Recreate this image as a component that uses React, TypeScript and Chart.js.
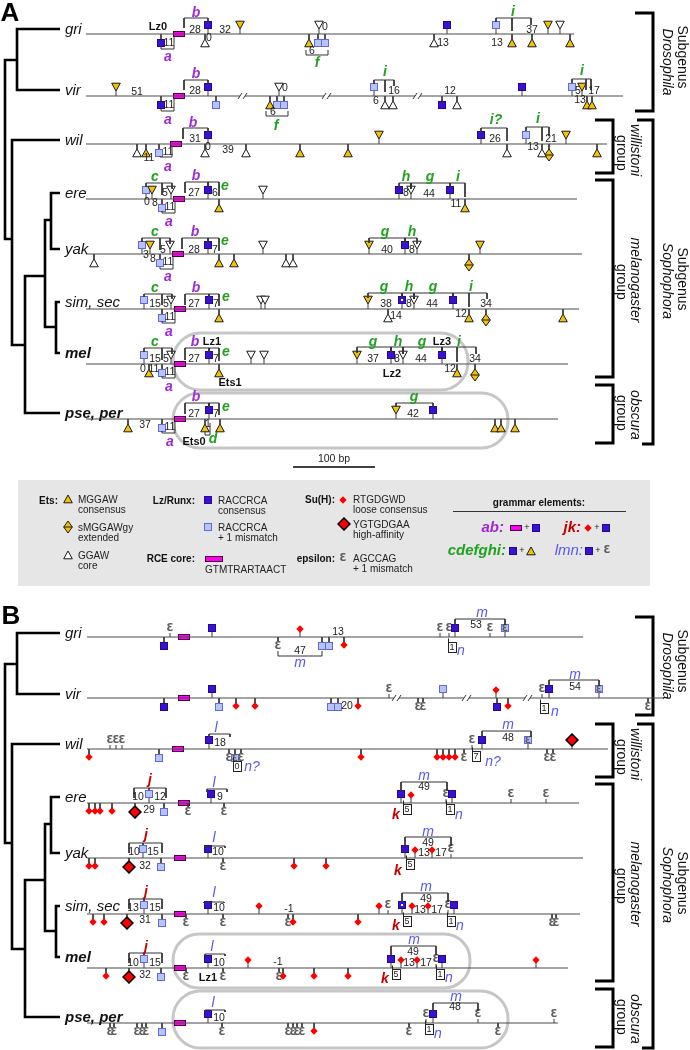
import React, { useEffect, useRef } from 'react';
import { Chart, registerables } from 'chart.js';

Chart.register(...registerables);

const FONT = '"Liberation Sans", Arial, Helvetica, sans-serif';
const W = 690;
const H = 1050;

// ---------- rows ----------
const species = ['gri', 'vir', 'wil', 'ere', 'yak', 'sim, sec', 'mel', 'pse, per'];
const speciesBold = [0, 0, 0, 0, 0, 0, 1, 1];
const treeY = [29, 90, 140, 193, 249, 302, 353, 413];
const shiftB = 604;
const baseA = [34, 96, 144, 199, 254, 309, 364, 419];
const baseB = [637, 698, 749, 803, 858, 914, 968, 1023];
const lineStartA = 86;
const lineStartB = 87;
const lineEndA = [574, 623, 607, 577, 582, 579, 568, 558];
const lineEndB = [583, 663, 608, 579, 583, 580, 568, 558];
const rceA = [179, 179, 176, 179, 178, 180, 180, 180];
const rceB = [184, 184, 178, 184, 180, 180, 180, 180];

// ---------- panel A elements: [type, position, strand side] ----------
const aGri = [['L',161,-1],['L',208,1],['W',205,-1],['Y',240,1],['Y',309,-1],['M',318,-1],['M',325,-1],['W',319,1],['L',447,1],['W',434,-1],['M',496,1],['Y',512,-1],['Y',532,-1],['Y',548,1],['W',560,1],['Y',570,-1]];
const aVir = [['Y',116,1],['L',161,-1],['L',208,1],['M',216,-1],['Y',270,-1],['M',277,-1],['M',284,-1],['W',279,1],['M',374,1],['W',385,-1],['W',393,-1],['L',442,-1],['W',457,-1],['L',522,1],['M',572,1],['Y',582,1],['Y',587,-1],['Y',592,-1]];
const aWil = [['W',137,-1],['Y',146,-1],['M',159,-1],['L',208,1],['W',205,-1],['W',246,-1],['Y',300,-1],['Y',348,-1],['Y',379,1],['L',481,1],['W',507,-1],['M',526,1],['W',542,-1],['D',549,-1],['Y',566,1],['Y',597,-1]];
const aEre = [['M',146,1],['Y',152,1],['W',171,1],['M',162,-1],['L',208,1],['Y',219,-1],['W',263,1],['L',399,1],['W',411,1],['L',450,1],['Y',465,-1]];
const aYak = [['W',94,-1],['M',142,1],['Y',150,1],['W',170,1],['M',160,-1],['L',208,1],['Y',219,-1],['Y',234,-1],['W',263,1],['W',286,-1],['W',293,-1],['Y',369,1],['L',405,1],['W',417,1],['D',469,-1],['Y',480,1]];
const aSim = [['M',144,1],['W',171,1],['M',162,-1],['L',209,1],['Y',219,-1],['W',261,1],['W',265,1],['Y',368,1],['W',388,-1],['P',402,1],['W',414,1],['L',453,1],['Y',469,-1],['D',486,-1],['Y',563,-1]];
const aMel = [['M',144,1],['W',171,1],['Y',149,-1],['M',162,-1],['L',209,1],['Y',219,-1],['W',251,1],['W',264,1],['Y',357,1],['L',391,1],['W',403,1],['L',442,1],['Y',457,-1],['D',475,-1]];
const aPse = [['Y',128,-1],['M',162,-1],['L',209,1],['Y',205,-1],['Y',220,-1],['Y',396,1],['L',433,1],['Y',495,-1],['Y',501,-1],['Y',515,-1]];

// ---------- panel B elements ----------
const bGri = [['E',170,1],['L',164,-1],['L',212,1],['S',300,1],['E',278,-1],['M',322,-1],['M',329,-1],['S',344,-1],['E',440,1],['E',449,1],['L',455,1],['E',490,1],['Q',505,1]];
const bVir = [['L',164,-1],['L',212,1],['M',219,-1],['S',236,-1],['S',255,-1],['M',331,-1],['M',338,-1],['S',358,-1],['E',389,1],['E',418,-1],['E',423,-1],['M',443,1],['S',496,1],['L',497,-1],['S',508,-1],['E',542,1],['L',549,1],['Q',599,1],['E',648,-1]];
const bWil = [['S',89,-1],['E',110,1],['E',116,1],['E',122,1],['M',159,-1],['L',209,1],['E',229,-1],['Q',235,-1],['E',241,-1],['S',361,-1],['S',437,-1],['S',443,-1],['S',449,-1],['S',455,-1],['E',464,-1],['E',472,1],['L',482,1],['Q',528,1],['E',547,-1],['E',553,-1],['H',572,1]];
const bEre = [['S',89,-1],['S',95,-1],['S',100,-1],['S',112,-1],['H',135,-1],['M',149,1],['M',164,-1],['E',188,-1],['L',211,1],['E',224,-1],['L',401,1],['S',411,1],['E',446,1],['L',452,1],['E',511,1],['E',546,1]];
const bYak = [['S',89,-1],['S',95,-1],['H',129,-1],['M',143,1],['M',161,-1],['L',208,1],['E',223,-1],['S',294,-1],['S',326,-1],['L',405,1],['S',415,1],['S',432,1],['E',451,1]];
const bSim = [['S',93,-1],['S',104,-1],['H',127,-1],['M',144,1],['M',162,-1],['E',186,-1],['L',208,1],['E',223,-1],['S',259,1],['E',288,-1],['S',293,-1],['S',358,-1],['S',379,1],['E',388,1],['P',402,1],['S',412,1],['S',428,1],['E',448,1],['L',454,1],['E',552,-1],['E',556,-1]];
const bMel = [['S',106,-1],['H',129,-1],['M',144,1],['M',161,-1],['E',186,-1],['L',208,1],['E',223,-1],['S',248,1],['E',279,-1],['S',283,-1],['S',314,-1],['S',348,-1],['L',391,1],['S',401,1],['S',417,1],['E',436,1],['L',442,1],['S',536,1]];
const bPse = [['E',110,-1],['E',114,-1],['E',137,-1],['E',142,-1],['E',146,-1],['M',162,-1],['L',208,1],['E',222,-1],['E',288,-1],['E',293,-1],['E',297,-1],['E',302,-1],['S',314,-1],['E',409,-1],['E',426,1],['L',433,1],['E',478,1],['E',498,-1],['E',554,1]];

// ---------- labels: [text, x, y, style] ----------
const labelsA = [
  ['Lz0',158,27,'b'],['11',169,43,'n'],['28',195,30,'n'],['0',209,38,'n'],['32',225,30,'n'],['0',325,27,'n'],['6',312,51,'n'],['13',443,43,'n'],['37',532,30,'n'],['13',497,43,'n'],['a',168,57,'p'],['b',196,13,'p'],['f',317,63,'g'],['i',513,12,'g'],
  ['51',137,92,'n'],['11',169,105,'n'],['28',195,91,'n'],['0',285,88,'n'],['6',273,112,'n'],['16',394,91,'n'],['6',376,101,'n'],['12',450,91,'n'],['5',578,91,'n'],['17',594,91,'n'],['13',580,100,'n'],['a',168,120,'p'],['b',196,74,'p'],['f',276,126,'g'],['i',385,72,'g'],['i',582,71,'g'],
  ['11',149,158,'n'],['11',168,152,'n'],['31',195,139,'n'],['0',208,147,'n'],['39',228,150,'n'],['26',495,139,'n'],['21',551,139,'n'],['13',533,147,'n'],['a',168,167,'p'],['b',193,123,'p'],['i?',496,120,'g'],['i',538,119,'g'],
  ['0',147,202,'n'],['8',155,203,'n'],['5',165,193,'n'],['11',170,207,'n'],['27',194,193,'n'],['6',215,193,'n'],['8',406,193,'n'],['44',429,194,'n'],['11',456,204,'n'],['c',155,177,'g'],['a',169,222,'p'],['b',196,176,'p'],['e',225,186,'g'],['h',406,177,'g'],['g',430,177,'g'],['i',458,177,'g'],
  ['3',146,255,'n'],['8',153,259,'n'],['5',163,250,'n'],['11',168,262,'n'],['28',194,250,'n'],['7',215,250,'n'],['40',387,250,'n'],['8',412,250,'n'],['c',155,232,'g'],['a',168,277,'p'],['b',195,232,'p'],['e',225,241,'g'],['g',385,232,'g'],['h',412,232,'g'],
  ['15',155,304,'n'],['5',166,304,'n'],['11',170,317,'n'],['27',194,304,'n'],['7',216,304,'n'],['38',386,304,'n'],['14',396,316,'n'],['8',409,304,'n'],['44',432,304,'n'],['34',486,304,'n'],['12',461,314,'n'],['c',155,288,'g'],['a',169,332,'p'],['b',196,288,'p'],['e',226,297,'g'],['g',384,287,'g'],['h',409,287,'g'],['g',433,287,'g'],['i',471,287,'g'],
  ['15',155,359,'n'],['5',166,359,'n'],['0',143,369,'n'],['11',154,369,'n'],['11',170,372,'n'],['27',194,359,'n'],['7',216,359,'n'],['37',373,359,'n'],['8',397,359,'n'],['44',421,359,'n'],['34',475,359,'n'],['12',450,369,'n'],['Lz1',212,342,'b'],['Ets1',230,383,'b'],['Lz3',442,342,'b'],['Lz2',392,374,'b'],['c',155,342,'g'],['a',169,387,'p'],['b',195,342,'p'],['e',226,352,'g'],['g',373,342,'g'],['h',398,342,'g'],['g',422,342,'g'],['i',459,342,'g'],
  ['37',145,425,'n'],['11',170,427,'n'],['27',194,414,'n'],['7',216,414,'n'],['1',208,424,'n'],['42',413,414,'n'],['Ets0',194,442,'b'],['a',170,442,'p'],['b',196,397,'p'],['e',226,407,'g'],['d',213,439,'g'],['g',414,397,'g'],
];
const labelsB = [
  ['13',338,632,'n'],['47',300,651,'n'],['53',476,625,'n'],['1',452,647,'x'],['m',300,663,'u'],['m',482,613,'u'],['n',461,651,'u'],
  ['20',347,706,'n'],['54',575,687,'n'],['1',544,708,'x'],['m',575,675,'u'],['n',555,712,'u'],
  ['18',220,743,'n'],['48',508,738,'n'],['0',237,766,'x'],['7',476,756,'x'],['l',216,728,'u'],['n?',252,767,'u'],['m',508,725,'u'],['n?',493,762,'u'],
  ['29',149,810,'n'],['10',138,797,'n'],['12',160,797,'n'],['9',220,797,'n'],['49',424,787,'n'],['5',407,809,'x'],['1',450,809,'x'],['j',150,780,'r'],['l',214,783,'u'],['m',424,776,'u'],['k',396,815,'r'],['n',459,815,'u'],
  ['32',145,866,'n'],['10',134,852,'n'],['15',153,852,'n'],['10',218,852,'n'],['13',424,853,'n'],['17',441,853,'n'],['49',428,843,'n'],['5',410,864,'x'],['j',146,835,'r'],['l',214,838,'u'],['m',428,832,'u'],['k',398,871,'r'],
  ['31',145,920,'n'],['13',133,908,'n'],['15',155,908,'n'],['10',219,908,'n'],['-1',289,909,'n'],['13',420,910,'n'],['17',437,910,'n'],['49',426,899,'n'],['5',407,921,'x'],['1',451,921,'x'],['j',146,892,'r'],['l',214,893,'u'],['m',426,887,'u'],['k',396,926,'r'],['n',460,926,'u'],
  ['32',145,975,'n'],['10',133,963,'n'],['15',155,963,'n'],['10',219,963,'n'],['-1',278,962,'n'],['13',409,963,'n'],['17',426,963,'n'],['49',413,952,'n'],['5',396,974,'x'],['1',440,974,'x'],['Lz1',208,978,'b'],['j',146,947,'r'],['l',212,947,'u'],['m',414,940,'u'],['k',385,979,'r'],['n',449,978,'u'],
  ['10',219,1018,'n'],['48',455,1007,'n'],['1',429,1029,'x'],['l',213,1003,'u'],['m',456,997,'u'],['n',438,1034,'u'],
];

// ---------- brackets: [barY, x1, legEnd1, x2, legEnd2, ...] ----------
const bracketsA = [
  [49,161,47,174,37],[18,184,28,208,22],[55,306,50,328,50],[18,496,22,512,31,531,25],
  [111,161,109,174,99],[80,184,90,208,84],[116,266,111,288,111],[80,374,84,385,92,394,86],[79,572,83,586,90,591,90],
  [157,160,156,172,146],[128,183,139,208,132],[128,481,132,507,141],[127,526,131,542,141,549,136],
  [183,146,187,162,195,172,189],[213,162,211,175,202],[182,185,193,208,187],[182,208,187,219,196],[183,399,187,411,189],[183,411,189,450,187],[183,450,187,465,197],
  [238,142,242,160,250,170,244],[269,160,267,173,257],[238,182,249,208,243],[238,208,243,219,251],[238,369,243,405,243],[238,405,243,417,244],
  [294,144,297,162,305,172,299],[323,162,321,175,312],[294,185,305,209,297],[294,209,297,219,306],[293,368,298,402,297],[293,402,297,414,299],[293,414,299,453,297],[293,453,297,469,307,487,299],
  [348,144,352,162,360,172,354],[378,162,376,175,367],[348,185,360,209,352],[348,209,352,219,361],[347,357,353,391,352],[347,391,352,403,354],[347,403,354,442,352],[347,442,352,457,362,476,354],
  [433,162,431,175,422],[403,185,414,209,407],[403,209,407,219,415],[435,205,431,210,423],[403,396,407,433,407],
];
const bracketsB = [
  [656,278,651,322,651],[619,455,625,505,625],
  [680,549,686,599,686],
  [734,209,737,230,737],[731,482,737,531,737],
  [788,134,798,149,790,166,798],[789,207,792,227,792],[782,401,791,447,791],
  [843,129,853,143,845,162,853],[846,205,848,225,848],[837,405,846,451,846],
  [899,129,909,144,901,162,909],[902,204,903,224,903],[893,402,902,448,902],
  [953,129,963,144,955,162,963],[954,205,956,225,956],[946,391,955,436,955],
  [1010,205,1012,225,1012],[1003,433,1011,478,1011],
];
const breaksA = [[1,243],[1,327],[1,418]];
const breaksB = [[1,397],[1,467],[1,528]];

// ---------- tree, side brackets, boxes (panel A coords; B shifted) ----------
const treeLines = [
  [[60,29],[17,29],[17,90],[60,90]],
  [[17,60],[5,60],[5,239],[12,239]],
  [[60,140],[12,140],[12,345],[25,345]],
  [[45,276],[25,276],[25,413],[60,413]],
  [[51,220],[45,220],[45,327],[56,327]],
  [[60,193],[51,193],[51,249],[60,249]],
  [[60,302],[56,302],[56,353],[60,353]],
];
const groupBrackets = [
  [[635,13],[653,13],[653,111],[635,111]],
  [[595,120],[613,120],[613,173],[595,173]],
  [[637,120],[653,120],[653,444],[642,444]],
  [[595,180],[613,180],[613,377],[595,377]],
  [[595,385],[613,385],[613,443],[595,443]],
];
const groupTexts = [
  ['Subgenus',682,57,0],['Drosophila',667,62,1],
  ['willistoni',635,150,1],['group',621,153,0],
  ['melanogaster',635,280,1],['group',621,282,0],
  ['Subgenus',682,279,0],['Sophophora',667,281,1],
  ['obscura',635,415,1],['group',621,413,0],
];
const roundBoxes = [[173,333,468,390],[173,393,508,448],[173,934,470,988],[173,991,508,1048]];
const scaleBar = [293, 375, 467];

// ---------- legend ----------
const legendTexts = [
  ['Ets:',58,501,'lb','right'],['MGGAW',78,500,'l'],['consensus',78,510,'l'],['sMGGAWgy',78,528,'l'],['extended',78,538,'l'],['GGAW',78,556,'l'],['core',78,566,'l'],
  ['Lz/Runx:',195,501,'lb','right'],['RACCRCA',218,501,'l'],['consensus',218,511,'l'],['RACCRCA',218,528,'l'],['+ 1 mismatch',218,538,'l'],
  ['RCE core:',195,559,'lb','right'],['GTMTRARTAACT',205,570,'l'],
  ['Su(H):',335,500,'lb','right'],['RTGDGWD',353,500,'l'],['loose consensus',353,510,'l'],['YGTGDGAA',353,525,'l'],['high-affinity',353,535,'l'],
  ['epsilon:',335,559,'lb','right'],['AGCCAG',353,559,'l'],['+ 1 mismatch',353,569,'l'],
  ['grammar elements:',539,503,'lb','center'],
  ['ab:',504,528,'gp','right'],['jk:',581,528,'gr','right'],['cdefghi:',506,551,'gg','right'],['lmn:',583,551,'gu','right'],
  ['+',527,528,'plus','center'],['+',597,528,'plus','center'],['+',522,551,'plus','center'],['+',598,551,'plus','center'],
];
const legendGlyphs = [['Yu',68,499],['D',68,527],['Wu',68,555],['L',208,500],['M',208,527],['S',343,500],['H',344,524],['E',343,558],['R',516,528],['L',536,528],['S',588,528],['L',606,528],['L',513,551],['Yu',531,551],['L',589,551],['E',607,550]];
const legendRce = [205, 556, 223, 562];

const panels = [
  { base: baseA, start: lineStartA, end: lineEndA, rce: rceA, elems: [aGri, aVir, aWil, aEre, aYak, aSim, aMel, aPse], brackets: bracketsA, labels: labelsA, breaks: breaksA, shift: 0, letter: ['A', 10, 14] },
  { base: baseB, start: lineStartB, end: lineEndB, rce: rceB, elems: [bGri, bVir, bWil, bEre, bYak, bSim, bMel, bPse], brackets: bracketsB, labels: labelsB, breaks: breaksB, shift: shiftB, letter: ['B', 11, 617] },
];

// ---------- styling ----------
const YEL = '#f4c200';
const DARK = '#3a10d4';
const DARKB = '#26088f';
const LIGHT = '#b4c6f6';
const LIGHTB = '#6464e4';
const RED = '#ff0000';
const MAG = '#ff00f0';
const OFF = { Y: [9, 5], W: [9, 5], L: [9, 5], M: [9, 5], P: [9, 5], Q: [9, 5], D: [11, 5], S: [8, 5], H: [9, 3], E: [9, 4] };
const STY = {
  n: [`10.5px ${FONT}`, '#222'],
  b: [`bold 11px ${FONT}`, '#111'],
  p: [`italic bold 14px ${FONT}`, '#a02ad2'],
  g: [`italic bold 14px ${FONT}`, '#1fa21f'],
  r: [`italic bold 14px ${FONT}`, '#c40000'],
  u: [`italic 14px ${FONT}`, '#5858f0'],
  l: [`10px ${FONT}`, '#222'],
  lb: [`bold 10px ${FONT}`, '#111'],
  gp: [`italic bold 15px ${FONT}`, '#a02ad2'],
  gr: [`italic bold 15px ${FONT}`, '#c40000'],
  gg: [`italic bold 15px ${FONT}`, '#1fa21f'],
  gu: [`italic 15px ${FONT}`, '#5858f0'],
  plus: [`9px ${FONT}`, '#222'],
};

function buildGlyphs() {
  const mk = (w, h, f) => {
    const c = document.createElement('canvas');
    c.width = w; c.height = h;
    const g = c.getContext('2d');
    f(g);
    return c;
  };
  const eps = (g, cx, cy, size) => {
    g.fillStyle = '#5e5e5e';
    g.font = `bold ${size}px "DejaVu Sans"`;
    g.textAlign = 'center';
    g.textBaseline = 'middle';
    g.fillText('\u0190', cx, cy);
  };
  const tri = (fill, up) => mk(10, 10, (g) => {
    g.beginPath();
    if (up) { g.moveTo(5, 1); g.lineTo(9.3, 8.8); g.lineTo(0.7, 8.8); }
    else { g.moveTo(0.7, 1.2); g.lineTo(9.3, 1.2); g.lineTo(5, 9); }
    g.closePath();
    g.fillStyle = fill; g.fill();
    g.strokeStyle = '#1a1a1a'; g.lineWidth = 1; g.stroke();
  });
  const sq = (fill, stroke, extra?) => mk(10, 10, (g) => {
    g.fillStyle = fill; g.fillRect(1, 1, 8, 8);
    g.strokeStyle = stroke; g.lineWidth = 1; g.strokeRect(1.5, 1.5, 7, 7);
    if (extra) extra(g);
  });
  return {
    Yu: tri(YEL, true), Yd: tri(YEL, false), Wu: tri('#ffffff', true), Wd: tri('#ffffff', false),
    D: mk(10, 14, (g) => {
      g.beginPath(); g.moveTo(5, 1); g.lineTo(9.3, 7); g.lineTo(5, 13); g.lineTo(0.7, 7); g.closePath();
      g.fillStyle = YEL; g.fill(); g.strokeStyle = '#1a1a1a'; g.lineWidth = 1; g.stroke();
      g.beginPath(); g.moveTo(0.7, 7); g.lineTo(9.3, 7); g.stroke();
    }),
    L: sq(DARK, DARKB),
    M: sq(LIGHT, LIGHTB),
    P: sq(DARK, DARKB, (g) => { g.fillStyle = '#fff'; g.fillRect(4, 4, 2, 2); }),
    Q: sq(LIGHT, LIGHTB, (g) => eps(g, 5, 5.5, 9)),
    S: mk(8, 8, (g) => {
      g.beginPath(); g.moveTo(4, 0.3); g.lineTo(7.7, 4); g.lineTo(4, 7.7); g.lineTo(0.3, 4); g.closePath();
      g.fillStyle = RED; g.fill();
    }),
    H: mk(14, 14, (g) => {
      g.beginPath(); g.moveTo(7, 1); g.lineTo(13, 7); g.lineTo(7, 13); g.lineTo(1, 7); g.closePath();
      g.fillStyle = RED; g.fill(); g.strokeStyle = '#000'; g.lineWidth = 1.5; g.stroke();
    }),
    E: mk(10, 12, (g) => eps(g, 5, 6.5, 10)),
    R: mk(14, 8, (g) => {
      g.fillStyle = MAG; g.fillRect(1, 1, 12, 6);
      g.strokeStyle = '#4a0040'; g.lineWidth = 1; g.strokeRect(1.5, 1.5, 11, 5);
    }),
  };
}

function polyData(polys) {
  const d = [];
  polys.forEach((p) => {
    p.forEach(([x, y]) => d.push({ x, y }));
    d.push({ x: p[p.length - 1][0], y: null });
  });
  return d;
}

function lineDs(polys, color, width) {
  return {
    data: polyData(polys), showLine: true, borderColor: color, borderWidth: width,
    pointRadius: 0, pointHoverRadius: 0, spanGaps: false, fill: false,
    borderCapStyle: 'butt', borderJoinStyle: 'miter', clip: false,
  };
}

function buildDatasets(G) {
  const ds = [];
  const basePolys = [];
  panels.forEach((P) => P.base.forEach((b, i) => basePolys.push([[P.start, b], [P.end[i], b]])));
  ds.push(lineDs(basePolys, '#4a4a4a', 1.2));

  const treePolys = [];
  const grpPolys = [];
  panels.forEach((P) => {
    treeLines.forEach((p) => treePolys.push(p.map(([x, y]) => [x, y + P.shift])));
    groupBrackets.forEach((p) => grpPolys.push(p.map(([x, y]) => [x, y + P.shift])));
  });
  ds.push(lineDs(treePolys, '#000', 2.6));
  ds.push(lineDs(grpPolys, '#000', 3));
  ds.push(lineDs([[[scaleBar[0], scaleBar[2]], [scaleBar[1], scaleBar[2]]]], '#000', 1.3));

  const brPolys = [];
  panels.forEach((P) => P.brackets.forEach((b) => {
    const y = b[0];
    const legs = [];
    for (let k = 1; k < b.length; k += 2) legs.push([b[k], b[k + 1]]);
    const xs = legs.map((l) => l[0]);
    brPolys.push([[Math.min(...xs), y], [Math.max(...xs), y]]);
    legs.forEach(([x, e]) => brPolys.push([[x, y], [x, e]]));
  }));
  ds.push(lineDs(brPolys, '#333', 1));

  const stemPolys = [];
  const pts = {};
  panels.forEach((P) => P.elems.forEach((row, r) => row.forEach(([t, x, s]) => {
    const b = P.base[r];
    const [off, st] = OFF[t];
    stemPolys.push([[x, b], [x, b - s * st]]);
    const key = t === 'Y' || t === 'W' ? t + (s > 0 ? 'd' : 'u') : t;
    (pts[key] = pts[key] || []).push({ x, y: b - s * off });
  })));
  ds.push(lineDs(stemPolys, '#3a3a3a', 1));

  pts.R = [];
  panels.forEach((P) => P.rce.forEach((x, r) => pts.R.push({ x, y: P.base[r] })));
  Object.keys(pts).forEach((k) => ds.push({
    data: pts[k], showLine: false, pointStyle: G[k], pointRadius: 6, pointHoverRadius: 6, clip: false,
  }));
  return ds;
}

function rrect(ctx, x, y, w, h, r) {
  ctx.beginPath();
  ctx.moveTo(x + r, y);
  ctx.lineTo(x + w - r, y);
  ctx.arcTo(x + w, y, x + w, y + r, r);
  ctx.lineTo(x + w, y + h - r);
  ctx.arcTo(x + w, y + h, x + w - r, y + h, r);
  ctx.lineTo(x + r, y + h);
  ctx.arcTo(x, y + h, x, y + h - r, r);
  ctx.lineTo(x, y + r);
  ctx.arcTo(x, y, x + r, y, r);
  ctx.closePath();
}

function makePlugin(G) {
  return {
    id: 'figureDecor',
    beforeDatasetsDraw(chart) {
      const ctx = chart.ctx;
      const X = (v) => chart.scales.x.getPixelForValue(v);
      const Y = (v) => chart.scales.y.getPixelForValue(v);
      ctx.save();
      ctx.fillStyle = '#e6e6e6';
      ctx.fillRect(X(18), Y(480), X(650) - X(18), Y(586) - Y(480));
      ctx.strokeStyle = '#c6c6c6';
      ctx.lineWidth = 3;
      roundBoxes.forEach(([x1, y1, x2, y2]) => {
        const h = Y(y2) - Y(y1);
        rrect(ctx, X(x1), Y(y1), X(x2) - X(x1), h, h / 2 - 1);
        ctx.stroke();
      });
      ctx.restore();
    },
    afterDatasetsDraw(chart) {
      const ctx = chart.ctx;
      const X = (v) => chart.scales.x.getPixelForValue(v);
      const Y = (v) => chart.scales.y.getPixelForValue(v);
      ctx.save();
      const text = (s, x, y, font, color, align = 'center', baseline = 'middle') => {
        ctx.font = font; ctx.fillStyle = color; ctx.textAlign = align; ctx.textBaseline = baseline;
        ctx.fillText(s, X(x), Y(y));
      };
      panels.forEach((P) => {
        text(P.letter[0], P.letter[1], P.letter[2], `bold 26px ${FONT}`, '#000');
        species.forEach((s, i) => {
          text(s, 65, treeY[i] + P.shift + 5, `${speciesBold[i] ? 'bold ' : ''}italic 15px ${FONT}`, '#111', 'left', 'alphabetic');
        });
        P.breaks.forEach(([r, x]) => {
          const b = P.base[r];
          ctx.fillStyle = '#fff';
          ctx.fillRect(X(x) - 3, Y(b) - 2, 5, 4);
          ctx.strokeStyle = '#333'; ctx.lineWidth = 1;
          ctx.beginPath();
          ctx.moveTo(X(x - 5), Y(b + 3)); ctx.lineTo(X(x - 1), Y(b - 3));
          ctx.moveTo(X(x), Y(b + 3)); ctx.lineTo(X(x + 4), Y(b - 3));
          ctx.stroke();
        });
        P.labels.forEach(([s, x, y, st]) => {
          if (st === 'x') {
            ctx.strokeStyle = '#222'; ctx.lineWidth = 1;
            ctx.fillStyle = '#fff';
            const bx = Math.round(X(x) - 4) + 0.5, by = Math.round(Y(y) - 5) + 0.5;
            ctx.fillRect(bx, by, 8, 10);
            ctx.strokeRect(bx, by, 8, 10);
            ctx.beginPath(); ctx.moveTo(bx, by); ctx.lineTo(bx, by - 4); ctx.stroke();
            text(s, x, y + 0.5, `9px ${FONT}`, '#222');
          } else {
            const [f, c] = STY[st];
            text(s, x, y, f, c);
          }
        });
        groupTexts.forEach(([s, x, y, it]) => {
          ctx.save();
          ctx.translate(X(x), Y(y + P.shift));
          ctx.rotate(Math.PI / 2);
          ctx.font = `${it ? 'italic ' : ''}14px ${FONT}`;
          ctx.fillStyle = '#111'; ctx.textAlign = 'center'; ctx.textBaseline = 'middle';
          ctx.fillText(s, 0, 0);
          ctx.restore();
        });
      });
      text('100 bp', (scaleBar[0] + scaleBar[1]) / 2, scaleBar[2] - 8, `10.5px ${FONT}`, '#222');
      legendTexts.forEach(([s, x, y, st, al]) => {
        const [f, c] = STY[st];
        text(s, x, y, f, c, al || 'left');
      });
      ctx.fillStyle = MAG;
      ctx.fillRect(X(legendRce[0]), Y(legendRce[1]), X(legendRce[2]) - X(legendRce[0]), Y(legendRce[3]) - Y(legendRce[1]));
      ctx.strokeStyle = '#4a0040'; ctx.lineWidth = 1;
      ctx.strokeRect(X(legendRce[0]) + 0.5, Y(legendRce[1]) + 0.5, X(legendRce[2]) - X(legendRce[0]) - 1, Y(legendRce[3]) - Y(legendRce[1]) - 1);
      legendGlyphs.forEach(([k, x, y]) => {
        const g = G[k];
        ctx.drawImage(g, Math.round(X(x) - g.width / 2), Math.round(Y(y) - g.height / 2));
      });
      ctx.strokeStyle = '#333'; ctx.lineWidth = 1;
      ctx.beginPath(); ctx.moveTo(X(453), Y(511) + 0.5); ctx.lineTo(X(626), Y(511) + 0.5); ctx.stroke();
      ctx.restore();
    },
  };
}

export default function App() {
  const ref = useRef(null);
  useEffect(() => {
    const canvas = ref.current;
    if (!canvas) return;
    const G = buildGlyphs();
    const chart = new Chart(canvas, {
      type: 'scatter',
      data: { datasets: buildDatasets(G) },
      options: {
        responsive: false,
        animation: false,
        events: [],
        devicePixelRatio: 1,
        layout: { padding: 0, autoPadding: false },
        plugins: { legend: { display: false }, tooltip: { enabled: false } },
        scales: {
          x: { type: 'linear', min: 0, max: W, display: false },
          y: { type: 'linear', min: 0, max: H, reverse: true, display: false },
        },
      },
      plugins: [makePlugin(G)],
    });
    return () => chart.destroy();
  }, []);
  return (
    <canvas
      ref={ref}
      width={W}
      height={H}
      style={{ position: 'absolute', left: 0, top: 0, width: W, height: H, background: '#fff' }}
    />
  );
}
